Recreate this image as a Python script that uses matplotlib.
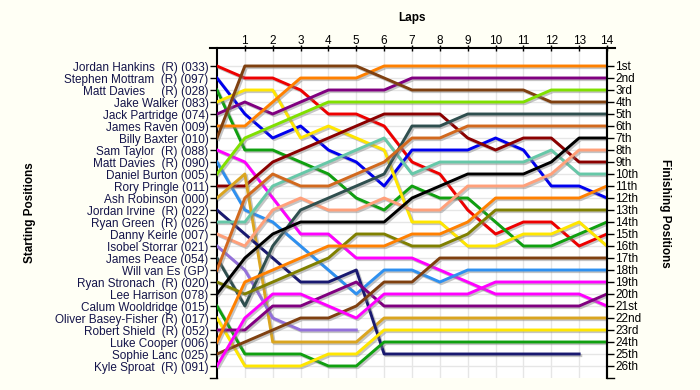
import matplotlib
matplotlib.use('Agg')
import matplotlib.pyplot as plt
import matplotlib.patheffects as pe

plt.rcParams['font.family'] = ['Liberation Sans', 'DejaVu Sans']

laps = list(range(15))

start_names = [
	'Jordan Hankins  (R) (033)', 'Stephen Mottram  (R) (097)', 'Matt Davies     (R) (028)',
	'Jake Walker (083)', 'Jack Partridge (074)', 'James Raven (009)', 'Billy Baxter (010)',
	'Sam Taylor  (R) (088)', 'Matt Davies  (R) (090)', 'Daniel Burton (005)',
	'Rory Pringle (011)', 'Ash Robinson (000)', 'Jordan Irvine  (R) (022)',
	'Ryan Green  (R) (026)', 'Danny Keirle (007)', 'Isobel Storrar (021)',
	'James Peace (054)', 'Will van Es (GP)', 'Ryan Stronach  (R) (020)',
	'Lee Harrison (078)', 'Calum Wooldridge (015)', 'Oliver Basey-Fisher (R) (017)',
	'Robert Shield  (R) (052)', 'Luke Cooper (006)', 'Sophie Lanc (025)',
	'Kyle Sproat  (R) (091)']

finish_labels = ['1st', '2nd', '3rd'] + [f'{i}th' for i in range(4, 21)] + \
	['21st', '22nd', '23rd', '24th', '25th', '26th']

# position after each lap (lap 0 = grid)
hankins = [1, 2, 2, 3, 5, 5, 6, 9, 10, 13, 15, 14, 14, 16, 15]
mottram = [2, 5, 7, 6, 8, 9, 11, 8, 8, 8, 7, 8, 11, 11, 12]
davies_028 = [3, 8, 8, 9, 10, 12, 13, 11, 12, 12, 14, 16, 16, 15, 14]
walker = [4, 3, 3, 7, 6, 7, 8, 14, 14, 16, 16, 15, 15, 14, 16]
partridge = [5, 4, 5, 4, 3, 3, 3, 2, 2, 2, 2, 2, 2, 2, 2]
raven = [6, 6, 4, 2, 2, 2, 1, 1, 1, 1, 1, 1, 1, 1, 1]
baxter = [7, 1, 1, 1, 1, 1, 2, 3, 3, 3, 3, 3, 4, 4, 4]
taylor = [8, 9, 12, 15, 15, 17, 17, 17, 18, 19, 20, 20, 20, 20, 21]
davies_090 = [9, 13, 14, 16, 18, 20, 18, 18, 19, 18, 18, 18, 18, 18, 18]
burton = [10, 7, 6, 5, 4, 4, 4, 4, 4, 4, 4, 4, 3, 3, 3]
pringle = [11, 11, 9, 8, 7, 6, 5, 5, 5, 7, 8, 7, 7, 9, 9]
robinson = [12, 10, 24, 24, 24, 24, 22, 22, 22, 22, 22, 22, 22, 22, 22]
irvine = [13, 15, 17, 19, 19, 18, 25, 25, 25, 25, 25, 25, 25, 25]
green = [14, 14, 11, 10, 9, 8, 7, 10, 9, 9, 9, 9, 8, 10, 10]
keirle = [15, 16, 13, 12, 13, 13, 12, 13, 13, 11, 11, 11, 10, 8, 8]
storrar = [16, 18, 22, 23, 23, 23]
peace = [17, 21, 16, 13, 12, 11, 10, 6, 6, 5, 5, 5, 5, 5, 5]
van_es = [18, 12, 10, 11, 11, 10, 9, 7, 7, 6, 6, 6, 6, 6, 6]
stronach = [19, 20, 19, 18, 17, 15, 15, 16, 16, 15, 13, 13, 13, 13, 13]
harrison = [20, 17, 15, 14, 14, 14, 14, 12, 11, 10, 10, 10, 9, 7, 7]
wooldridge = [21, 25, 25, 25, 26, 26, 24, 24, 24, 24, 24, 24, 24, 24, 24]
basey_fisher = [22, 26, 26, 26, 25, 25, 23, 23, 23, 23, 23, 23, 23, 23, 23]
shield = [23, 23, 21, 21, 20, 19, 21, 21, 21, 21, 21, 21, 21, 21, 20]
cooper = [24, 19, 18, 17, 16, 16, 16, 15, 15, 14, 12, 12, 12, 12, 11]
lanc = [25, 24, 23, 22, 22, 21, 19, 19, 17, 17, 17, 17, 17, 17, 17]
sproat = [26, 22, 20, 20, 21, 22, 20, 20, 20, 20, 19, 19, 19, 19, 19]

positions = [hankins, mottram, davies_028, walker, partridge, raven, baxter, taylor,
	davies_090, burton, pringle, robinson, irvine, green, keirle, storrar, peace,
	van_es, stronach, harrison, wooldridge, basey_fisher, shield, cooper, lanc, sproat]

colors = ['#EE0000', '#0000EE', '#10A010', '#FFE600', '#800080', '#FF8000', '#7F4010',
	'#FF00FF', '#2E90F0', '#80E000', '#8B0000', '#DAA520', '#191970', '#66C8A8',
	'#FFA07A', '#9370DB', '#2F4F4F', '#D2691E', '#808000', '#000000', '#10A010',
	'#FFE600', '#800080', '#FF8000', '#7F4010', '#FF00FF']

fig = plt.figure(figsize=(7, 3.9), dpi=100, facecolor='#FFFFF5')
ax = fig.add_axes([217 / 700, 1 - 378 / 390, 390 / 700, 330 / 390])
ax.set_facecolor('white')
ax.set_xlim(0, 14)
ax.set_ylim(27, -0.5)

shadow = [pe.SimpleLineShadow(offset=(1.2, -1.2), shadow_color='#808080', alpha=0.45),
	pe.Normal()]
for pos, c in zip(positions, colors):
	ax.plot(laps[:len(pos)], pos, color=c, lw=2.1, solid_joinstyle='round',
		path_effects=shadow, zorder=3)

ax.set_xticks(range(1, 15))
ax.xaxis.tick_top()
ax.tick_params(axis='x', direction='inout', length=4, width=1, pad=-1, labelsize=8.5)
ax.set_yticks(range(1, 27))
ax.set_yticklabels(start_names, color='#14144A')
ax.tick_params(axis='y', direction='out', length=5, width=1, pad=1, labelsize=8.5)
ax.grid(color='#E6E6E6', lw=1, zorder=0)

for side in ('left', 'right'):
	ax.spines[side].set_linewidth(1.5)
ax.spines['bottom'].set_visible(False)
ax.spines['top'].set_visible(False)

# extended top rule and the small end ticks
ax.plot([-0.018, 1.02], [1, 1], transform=ax.transAxes, color='black', lw=1.5, clip_on=False)
ax.plot([-0.018, 0], [0, 0], transform=ax.transAxes, color='black', lw=1, clip_on=False)
ax.plot([1, 1.018], [0, 0], transform=ax.transAxes, color='black', lw=1, clip_on=False)

ax2 = ax.twinx()
ax2.set_ylim(27, -0.5)
ax2.set_yticks(range(1, 27))
ax2.set_yticklabels(finish_labels)
ax2.tick_params(axis='y', direction='out', length=5, width=1, pad=1, labelsize=8.5)
for s in ('left', 'top', 'bottom'):
	ax2.spines[s].set_visible(False)
ax2.spines['right'].set_linewidth(1.5)

fig.text(412 / 700, 1 - 18 / 390, 'Laps', ha='center', va='center',
	fontsize=8.5, fontweight='bold')
fig.text(30 / 700, 1 - 213 / 390, 'Starting Positions', ha='center', va='center',
	rotation=90, fontsize=8.5, fontweight='bold')
fig.text(665 / 700, 1 - 213 / 390, 'Finishing Positions', ha='center', va='center',
	rotation=270, fontsize=8.5, fontweight='bold')

fig.savefig('out.png', dpi=100, facecolor=fig.get_facecolor())
